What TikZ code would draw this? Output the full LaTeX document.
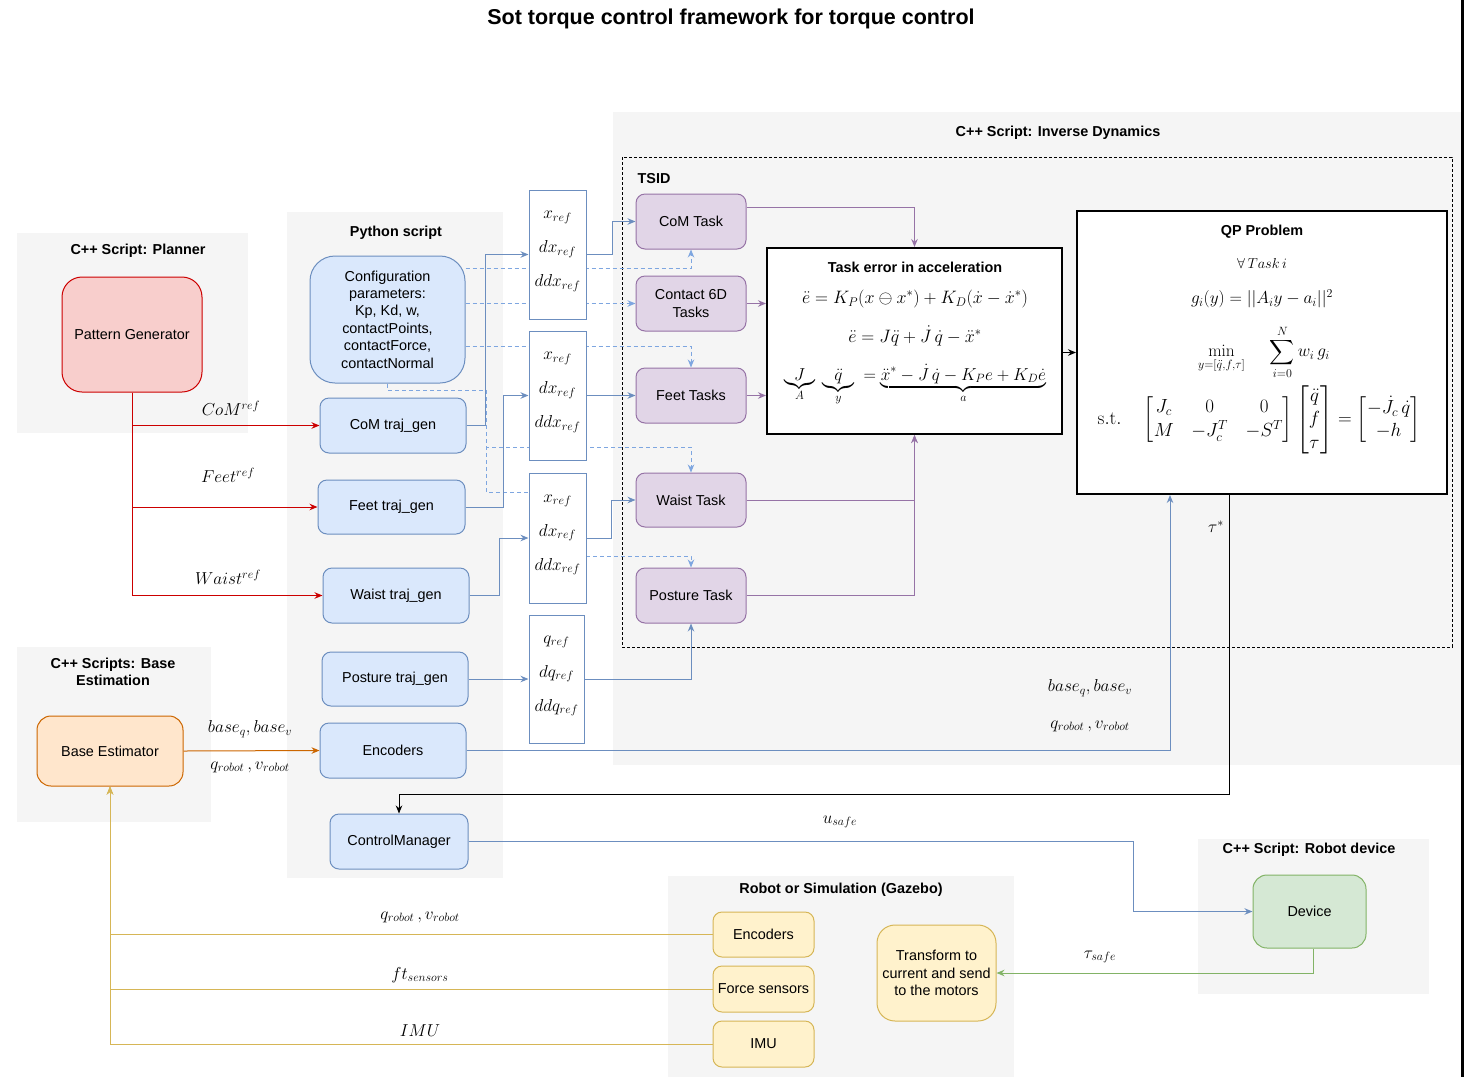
\documentclass[tikz,border=0pt]{standalone}
\usepackage{amsmath}
\usepackage{amssymb}
\usepackage[no-math]{fontspec}
\setmainfont{Liberation Sans}
\usepackage{tikz}
\usetikzlibrary{positioning}
\usetikzlibrary{arrows.meta}
\usepackage{xcolor}

\definecolor{groupgray}{HTML}{F5F5F5}
\definecolor{bluefill}{HTML}{DAE8FC}
\definecolor{bluedraw}{HTML}{6C8EBF}
\definecolor{bluedash}{HTML}{7EA6E0}
\definecolor{redfill}{HTML}{F8CECC}
\definecolor{reddraw}{HTML}{CC0000}
\definecolor{orangefill}{HTML}{FFE6CC}
\definecolor{orangedraw}{HTML}{CC6600}
\definecolor{purplefill}{HTML}{E1D5E7}
\definecolor{purpledraw}{HTML}{9673A6}
\definecolor{yellowfill}{HTML}{FFF2CC}
\definecolor{yellowdraw}{HTML}{D6B656}
\definecolor{greenfill}{HTML}{D5E8D4}
\definecolor{greendraw}{HTML}{82B366}

\begin{document}
\begin{tikzpicture}[x=1pt, y=-1pt,
  nodetext/.style={font=\fontsize{14.4}{17.4}\selectfont, align=center, inner sep=0pt},
  titletext/.style={font=\fontsize{14.4}{17.4}\selectfont\bfseries, align=center, inner sep=0pt},
  mathtext/.style={font=\fontsize{17.28}{21.6}\selectfont, inner sep=0pt},
  blockbox/.style={nodetext, line width=1pt, rounded corners=9pt},
  bluebox/.style={blockbox, draw=bluedraw, fill=bluefill},
  purplebox/.style={blockbox, draw=purpledraw, fill=purplefill},
  yellowbox/.style={blockbox, draw=yellowdraw, fill=yellowfill},
  refbox/.style={draw=bluedraw, fill=white, line width=1pt, align=center, inner sep=0pt, text depth=11pt, font=\fontsize{17.28}{34}\selectfont},
  eqbox/.style={draw=black, fill=white, line width=2pt},
  tip/.style={-{Stealth[length=8pt,width=6.5pt]}, line width=1pt},
  redline/.style={tip, draw=reddraw},
  blueline/.style={tip, draw=bluedraw},
  dashline/.style={tip, draw=bluedash, dash pattern=on 4pt off 3pt},
  purpleline/.style={tip, draw=purpledraw},
  yellowline/.style={tip, draw=yellowdraw},
]
\useasboundingbox (0,0) rectangle (1464,1077);

% groups
{
\fill[groupgray] (17,233) rectangle (248,433);
\fill[groupgray] (287,212) rectangle (503,878);
\fill[groupgray] (613,112) rectangle (1461,765);
\fill[groupgray] (17,647) rectangle (211,822);
\fill[groupgray] (668,876) rectangle (1014,1077);
\fill[groupgray] (1198,839) rectangle (1429,994);
\draw[black, line width=0.8pt, dash pattern=on 3pt off 2pt] (622,157) rectangle (1452,647);
\fill[black] (1461,0) rectangle (1464,1077);
}

\node[titletext, font=\fontsize{21.5}{25}\selectfont\bfseries] (title) at (731,19)
{Sot torque control framework for torque control};
\node[titletext] (plannertitle) at (138,251) {C++ Script: Planner};
\node[titletext] (pythontitle) at (396,233) {Python script};
\node[titletext] (invdyntitle) at (1058,133) {C++ Script: Inverse Dynamics};
\node[titletext] (basetitle) at (113,672) {C++ Scripts: Base\\Estimation};
\node[titletext] (robottitle) at (841,890) {Robot or Simulation (Gazebo)};
\node[titletext] (devicetitle) at (1309,850) {C++ Script: Robot device};
\node[titletext] (tsidtitle) at (654,179) {TSID};

% dashed config lines (under the ref boxes)
{
\node[bluebox, rounded corners=25pt, minimum width=155pt, minimum height=127pt] (config) at (387.5,319.5)
{Configuration\\parameters:\\Kp, Kd, w,\\contactPoints,\\contactForce,\\contactNormal};
\node[purplebox, minimum width=110pt, minimum height=55pt] (comtask) at (691,221.5) {CoM Task};
\node[purplebox, minimum width=110pt, minimum height=55pt] (contacttask) at (691,303.5) {Contact 6D\\Tasks};
\node[purplebox, minimum width=110pt, minimum height=55pt] (feettask) at (691,395.5) {Feet Tasks};
\node[purplebox, minimum width=110pt, minimum height=54pt] (waisttask) at (691,500) {Waist Task};
\node[purplebox, minimum width=110pt, minimum height=55pt] (posturetask) at (691,595.5) {Posture Task};
\coordinate (dashsplit) at (486,390);

\draw[dashline] ([yshift=51.5pt]config.east) -| (comtask.south);
\draw[dashline] (config.east |- contacttask.west) -- (contacttask.west);
\draw[dashline] ([yshift=-26.5pt]config.east) -| (feettask.north);
\draw[dashline] (config.south) |- (dashsplit) |- (691,447) -- (waisttask.north);
\draw[dashline] (config.south) |- (dashsplit) |- (558,492) |- (691,556) -- (posturetask.north);
}

% nodes
{
\node[blockbox, draw=reddraw, fill=redfill, rounded corners=20pt, minimum width=140pt, minimum height=115pt] (patgen) at (132,334.5) {Pattern Generator};
\node[bluebox, minimum width=146pt, minimum height=55pt] (comtraj) at (393,425.5) {CoM traj\_gen};
\node[bluebox, minimum width=147pt, minimum height=54pt] (feettraj) at (391.5,507) {Feet traj\_gen};
\node[bluebox, minimum width=146pt, minimum height=55pt] (waisttraj) at (396,595.5) {Waist traj\_gen};
\node[bluebox, minimum width=146pt, minimum height=54pt] (posturetraj) at (395,679) {Posture traj\_gen};
\node[bluebox, minimum width=146pt, minimum height=55pt] (encpy) at (393,750.5) {Encoders};
\node[bluebox, minimum width=138pt, minimum height=55pt] (ctrlmgr) at (399,841.5) {ControlManager};
\node[blockbox, draw=orangedraw, fill=orangefill, rounded corners=14pt, minimum width=146pt, minimum height=70pt] (baseest) at (110,751) {Base Estimator};

\node[refbox, minimum width=57pt, minimum height=129pt] (refa) at (557.5,254.5) {$x_{ref}$\\$dx_{ref}$\\$ddx_{ref}$};
\node[refbox, minimum width=57pt, minimum height=129pt] (refb) at (557.5,395.5) {$x_{ref}$\\$dx_{ref}$\\$ddx_{ref}$};
\node[refbox, minimum width=57pt, minimum height=130pt] (refc) at (557.5,538) {$x_{ref}$\\$dx_{ref}$\\$ddx_{ref}$};
\node[refbox, minimum width=55pt, minimum height=128pt] (refd) at (556.5,679) {$q_{ref}$\\$dq_{ref}$\\$ddq_{ref}$};

\node[eqbox, minimum width=295pt, minimum height=186pt] (taskerr) at (914.5,341) {};
\node[titletext] (taskerrtitle) at (915,267) {Task error in acceleration};
\node[mathtext, scale=1.04] (eqone) at (915,299) {$\ddot e = K_P(x \ominus x^*) + K_D(\dot x - \dot x^*)$};
\node[mathtext, scale=1.04] (eqtwo) at (915,336) {$\ddot e = J\ddot q + \dot J\,\dot q - \ddot x^*$};
\node[mathtext, anchor=base] (eqthree) at (915,380)
{$\underbrace{J}_{A}\;\underbrace{\ddot q}_{y} \;= \underbrace{\ddot x^* - \dot J\,\dot q - K_P e + K_D \dot e}_{a}$};

\node[eqbox, minimum width=370pt, minimum height=283pt] (qp) at (1262,352.5) {};
\node[titletext] (qptitle) at (1262,232) {QP Problem};
\node[mathtext, font=\fontsize{14.4}{18}\selectfont] (forall) at (1262,263) {$\forall\, Task\, i$};
\node[mathtext] (gfun) at (1262,299) {$g_i(y) = ||A_i y - a_i||^2$};
\node[mathtext] (minsum) at (1264,352)
{$\displaystyle\min_{y=[\ddot q,f,\tau]}\quad\;\sum_{i=0}^{N} w_i\, g_i$};
\node[mathtext, scale=1.1] (constr) at (1259,420)
{$\mathrm{s.t.}\quad\setlength{\arraycolsep}{8pt}\begin{bmatrix} J_c & 0 & 0\\ M & -J_c^T & -S^T\end{bmatrix}
\setlength{\arraycolsep}{4pt}\begin{bmatrix}\ddot q\\ f\\ \tau\end{bmatrix} = \begin{bmatrix}-\dot J_c\,\dot q\\ -h\end{bmatrix}$};

\node[yellowbox, minimum width=101pt, minimum height=45pt] (encrob) at (763.5,934.5) {Encoders};
\node[yellowbox, minimum width=101pt, minimum height=46pt] (forcesens) at (763.5,989) {Force sensors};
\node[yellowbox, minimum width=101pt, minimum height=46pt] (imu) at (763.5,1044) {IMU};
\node[yellowbox, rounded corners=18pt, minimum width=119pt, minimum height=96pt] (transform) at (936.5,973)
{Transform to\\current and send\\to the motors};
\node[blockbox, draw=greendraw, fill=greenfill, rounded corners=14pt, minimum width=113pt, minimum height=73pt] (device) at (1309.5,911.5) {Device};
}

% arrows
{
\draw[redline] (patgen.south) |- (comtraj.west);
\draw[redline] (patgen.south) |- (feettraj.west);
\draw[redline] (patgen.south) |- (waisttraj.west);

\draw[blueline] (comtraj.east) -- ++(19,0) |- (refa.west);
\draw[blueline] (refa.east) -- ++(26,0) |- (comtask.west);
\draw[blueline] (feettraj.east) -- ++(38,0) |- (refb.west);
\draw[blueline] (refb.east) -- (feettask.west);
\draw[blueline] (waisttraj.east) -- ++(30,0) |- (refc.west);
\draw[blueline] (refc.east) -- ++(25,0) |- (waisttask.west);
\draw[blueline] (posturetraj.east) -- (refd.west);
\draw[blueline] (refd.east) -| (posturetask.south);
\draw[blueline] (encpy.east) -| ([xshift=-92pt]qp.south);
\draw[blueline] (ctrlmgr.east) -- ++(665,0) |- (device.west);

\draw[purpleline] ([yshift=14.5pt]comtask.east) -| (taskerr.north);
\draw[purpleline] (contacttask.east) -- (contacttask.east -| taskerr.west);
\draw[purpleline] (feettask.east) -- (feettask.east -| taskerr.west);
\draw[purpleline] (waisttask.east) -| (taskerr.south);
\draw[purpleline] (posturetask.east) -| (taskerr.south);

\draw[tip] (taskerr.east |- qp.west) -- (qp.west);
\draw[tip] ([xshift=-33pt]qp.south) -- ++(0,299) -| (ctrlmgr.north);

\draw[tip, draw=greendraw] ([xshift=3.5pt]device.south) |- (transform.east);
\draw[tip, draw=orangedraw] (baseest.east) -- (encpy.west);

\draw[yellowline] (encrob.west) -| (baseest.south);
\draw[yellowline] (forcesens.west) -| (baseest.south);
\draw[yellowline] (imu.west) -| (baseest.south);
}

% labels
{
\node[mathtext] (comref) at (231,408) {$CoM^{ref}$};
\node[mathtext] (feetref) at (228,475) {$Feet^{ref}$};
\node[mathtext] (waistref) at (228,577) {$Waist^{ref}$};
\node[mathtext] (baseleft) at (250,729) {$base_q, base_v$};
\node[mathtext] (robotleft) at (250,767) {$q_{robot}\,, v_{robot}$};
\node[mathtext] (baseright) at (1090,688) {$base_q, base_v$};
\node[mathtext] (robotright) at (1090,726) {$q_{robot}\,, v_{robot}$};
\node[mathtext] (taustar) at (1216,527) {$\tau^*$};
\node[mathtext] (usafe) at (840,822) {$u_{safe}$};
\node[mathtext] (tausafe) at (1100,957) {$\tau_{safe}$};
\node[mathtext] (robotsens) at (420,917) {$q_{robot}\,, v_{robot}$};
\node[mathtext] (ftsens) at (420,975) {$ft_{sensors}$};
\node[mathtext] (imulabel) at (420,1031) {$IMU$};
}

\end{tikzpicture}
\end{document}
